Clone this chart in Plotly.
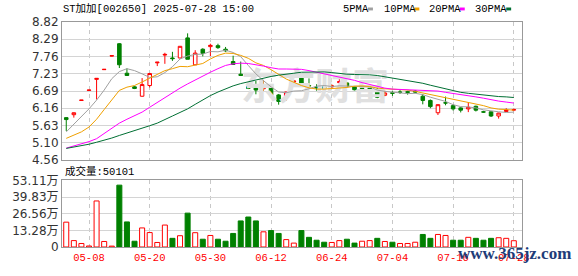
import plotly.graph_objects as go

TITLE = "ST加加[002650] 2025-07-28 15:00"
VOL_LABEL = "成交量:50101"

DATES = ["04-30", "05-06", "05-07", "05-08", "05-09", "05-12", "05-13", "05-14", "05-15", "05-16",
         "05-19", "05-20", "05-21", "05-22", "05-23", "05-26", "05-27", "05-28", "05-29", "05-30",
         "06-03", "06-04", "06-05", "06-06", "06-09", "06-10", "06-11", "06-12", "06-13", "06-16",
         "06-17", "06-18", "06-19", "06-20", "06-23", "06-24", "06-25", "06-26", "06-27", "06-30",
         "07-01", "07-02", "07-03", "07-04", "07-07", "07-08", "07-09", "07-10", "07-11", "07-14",
         "07-15", "07-16", "07-17", "07-18", "07-21", "07-22", "07-23", "07-24", "07-25", "07-28"]

OPEN = [5.87, 5.96, 6.40, 6.71, 7.05, 7.35, 7.77, 8.15, 7.24, 6.82,
        6.53, 6.86, 7.56, 7.80, 7.71, 7.71, 8.33, 7.50, 7.98, 8.06,
        8.09, 7.98, 7.60, 7.21, 6.83, 6.87, 6.76, 6.82, 6.57, 6.53,
        6.97, 7.19, 6.86, 6.81, 6.82, 6.82, 6.95, 6.94, 6.82, 6.79,
        6.79, 6.74, 6.56, 6.64, 6.66, 6.67, 6.69, 6.53, 6.40, 6.02,
        6.33, 6.24, 6.17, 6.14, 6.22, 6.05, 6.05, 5.92, 6.06, 6.10]
HIGH = [5.88, 6.03, 6.41, 6.72, 7.08, 7.36, 7.78, 8.17, 7.39, 6.84,
        7.09, 7.25, 7.58, 7.87, 7.90, 8.08, 8.47, 7.95, 8.01, 8.15,
        8.15, 8.05, 7.78, 7.60, 6.95, 7.00, 7.03, 6.84, 6.60, 6.67,
        7.01, 7.20, 7.08, 6.90, 6.84, 6.90, 7.10, 6.96, 6.84, 6.85,
        6.86, 6.81, 6.70, 6.70, 6.72, 6.70, 6.72, 6.60, 6.43, 6.28,
        6.52, 6.28, 6.19, 6.34, 6.24, 6.08, 6.06, 6.02, 6.16, 6.15]
LOW = [5.46, 5.87, 6.39, 6.70, 6.43, 7.34, 7.76, 7.40, 7.16, 6.75,
       6.52, 6.80, 7.46, 7.53, 7.62, 7.70, 7.67, 7.50, 7.76, 7.77,
       7.99, 7.90, 7.50, 7.16, 6.75, 6.59, 6.69, 6.54, 6.27, 6.40,
       6.96, 6.86, 6.84, 6.70, 6.76, 6.77, 6.92, 6.83, 6.71, 6.70,
       6.68, 6.47, 6.53, 6.54, 6.60, 6.58, 6.62, 6.28, 6.16, 5.95,
       6.25, 6.09, 6.03, 6.04, 6.06, 6.02, 5.89, 5.84, 6.05, 6.07]
CLOSE = [5.81, 6.02, 6.41, 6.72, 7.08, 7.36, 7.78, 7.50, 7.17, 6.77,
         6.89, 7.23, 7.58, 7.82, 7.69, 8.07, 7.67, 7.86, 7.85, 8.10,
         8.03, 7.93, 7.51, 7.17, 6.77, 6.72, 6.87, 6.57, 6.37, 6.66,
         7.00, 6.91, 6.85, 6.79, 6.77, 6.85, 6.98, 6.84, 6.73, 6.77,
         6.77, 6.50, 6.63, 6.62, 6.65, 6.65, 6.66, 6.40, 6.21, 6.27,
         6.32, 6.14, 6.10, 6.19, 6.10, 6.04, 5.92, 6.01, 6.10, 6.12]
PREV_CLOSE = 5.54

# volume in 万股
VOLUME = [19.8, 5.1, 2.8, 0.8, 36.7, 4.4, 0.7, 49.3, 20.0, 4.6,
          15.2, 11.5, 3.6, 17.5, 6.9, 9.0, 27.0, 11.4, 6.2, 9.2,
          6.2, 4.6, 10.8, 20.8, 23.9, 20.8, 12.1, 13.1, 10.8, 5.9,
          3.1, 13.1, 7.7, 5.4, 3.8, 3.6, 5.1, 6.2, 3.1, 4.6,
          5.1, 6.9, 4.4, 3.8, 2.8, 2.8, 3.8, 10.0, 6.9, 10.0,
          9.2, 5.4, 5.4, 7.7, 6.9, 5.4, 6.9, 7.4, 6.9, 5.01]

MA5 = [5.43, 5.66, 5.90, 6.14, 6.41, 6.72, 7.07, 7.29, 7.38, 7.32,
       7.22, 7.11, 7.13, 7.26, 7.44, 7.68, 7.77, 7.82, 7.83, 7.91,
       7.90, 7.95, 7.88, 7.75, 7.48, 7.22, 7.01, 6.82, 6.66, 6.64,
       6.69, 6.70, 6.76, 6.84, 6.86, 6.83, 6.85, 6.85, 6.83, 6.83,
       6.82, 6.72, 6.68, 6.66, 6.63, 6.61, 6.62, 6.58, 6.50, 6.44,
       6.37, 6.27, 6.21, 6.20, 6.17, 6.11, 6.07, 6.05, 6.03, 6.04]
MA10 = [5.23, 5.33, 5.43, 5.58, 5.82, 6.12, 6.41, 6.71, 6.81, 6.86,
        6.97, 7.09, 7.21, 7.32, 7.38, 7.45, 7.44, 7.48, 7.54, 7.68,
        7.79, 7.86, 7.85, 7.79, 7.70, 7.56, 7.48, 7.35, 7.20, 7.06,
        6.96, 6.86, 6.79, 6.75, 6.75, 6.76, 6.78, 6.80, 6.84, 6.85,
        6.83, 6.78, 6.76, 6.75, 6.73, 6.72, 6.68, 6.63, 6.58, 6.53,
        6.48, 6.45, 6.39, 6.35, 6.30, 6.24, 6.17, 6.13, 6.12, 6.10]
MA20 = [4.93, 4.99, 5.05, 5.13, 5.22, 5.38, 5.55, 5.70, 5.82, 5.93,
        6.04, 6.19, 6.34, 6.49, 6.63, 6.78, 6.91, 7.03, 7.17, 7.27,
        7.38, 7.48, 7.53, 7.55, 7.54, 7.51, 7.46, 7.41, 7.37, 7.37,
        7.37, 7.36, 7.32, 7.27, 7.22, 7.16, 7.13, 7.08, 7.02, 6.95,
        6.89, 6.82, 6.78, 6.75, 6.74, 6.74, 6.72, 6.72, 6.71, 6.69,
        6.65, 6.62, 6.58, 6.55, 6.51, 6.47, 6.42, 6.38, 6.35, 6.32]
MA30 = [4.92, 4.96, 5.00, 5.05, 5.11, 5.17, 5.24, 5.32, 5.39, 5.46,
        5.54, 5.62, 5.70, 5.80, 5.92, 6.03, 6.14, 6.28, 6.42, 6.55,
        6.66, 6.76, 6.85, 6.92, 6.98, 7.04, 7.09, 7.14, 7.18, 7.20,
        7.24, 7.27, 7.28, 7.29, 7.28, 7.26, 7.23, 7.21, 7.20, 7.20,
        7.19, 7.17, 7.13, 7.09, 7.06, 7.01, 6.98, 6.93, 6.87, 6.81,
        6.76, 6.70, 6.65, 6.62, 6.59, 6.57, 6.54, 6.52, 6.51, 6.49]

PRICE_TICKS = ["4.56", "5.10", "5.63", "6.16", "6.69", "7.23", "7.76", "8.29", "8.82"]
VOL_TICKS = ["0", "13.28", "26.56", "39.83", "53.11"]
X_TICKS = ["05-08", "05-20", "05-30", "06-12", "06-24", "07-04", "07-16", "07-28"]
MA_NAMES = ["5PMA", "10PMA", "20PMA", "30PMA"]

RED = "#ff0000"
GREEN = "#008000"
MA_COLORS = ["#a0a0a0", "#f0a000", "#ff00ff", "#006f33"]

idx = list(range(len(DATES)))
xt = [DATES.index(d) for d in X_TICKS]

prevs = [PREV_CLOSE] + CLOSE[:-1]
up = [c >= p for c, p in zip(CLOSE, prevs)]
vol_fill = ["#ffffff" if u else GREEN for u in up]
vol_line = [RED if u else GREEN for u in up]

fig = go.Figure()

# faint watermark behind the data
fig.add_trace(go.Scatter(x=[32.8], y=[6.70], mode="text", text=["东方财富"],
                         textfont=dict(family="Noto Sans CJK SC", size=37, color="#e0e0e0", weight=700),
                         hoverinfo="skip", showlegend=False, xaxis="x", yaxis="y"))

fig.add_trace(go.Candlestick(
    x=idx, open=OPEN, high=HIGH, low=LOW, close=CLOSE,
    increasing=dict(line=dict(color=RED, width=1), fillcolor="#ffffff"),
    decreasing=dict(line=dict(color=GREEN, width=1), fillcolor=GREEN),
    whiskerwidth=0, showlegend=False, hoverinfo="skip", xaxis="x", yaxis="y"))

for ma, col, nm in zip([MA5, MA10, MA20, MA30], MA_COLORS, MA_NAMES):
    fig.add_trace(go.Scatter(x=idx, y=ma, mode="lines", name=nm,
                             line=dict(color=col, width=1), hoverinfo="skip",
                             showlegend=False, xaxis="x", yaxis="y"))

fig.add_trace(go.Bar(x=idx, y=VOLUME, width=0.66,
                     marker=dict(color=vol_fill, line=dict(color=vol_line, width=1)),
                     showlegend=False, hoverinfo="skip", xaxis="x2", yaxis="y2"))

W, H = 578, 276
ML, MR, MT, MB = 56, 56, 22, 21
PW, PH = W - ML - MR, H - MT - MB


def px(x):
    return (x - ML) / PW


def py(y):
    return (H - MB - y) / PH


XR = [-0.56, 60.08]
grid_dash = "4px,4px"
border = "#999999"

fig.update_layout(
    width=W, height=H, margin=dict(l=ML, r=MR, t=MT, b=MB, pad=0),
    paper_bgcolor="white", plot_bgcolor="white", showlegend=False,
    boxgap=0.33,
    xaxis=dict(domain=[0, 1], anchor="y", range=XR, tickmode="array", tickvals=xt,
               showticklabels=False, ticks="", showgrid=True, gridcolor="#c8c8c8",
               griddash=grid_dash, gridwidth=1, showline=True, mirror=True,
               linecolor=border, linewidth=1, zeroline=False,
               rangeslider=dict(visible=False)),
    yaxis=dict(domain=[py(165), 1], anchor="x", range=[4.56, 8.82], tickmode="array",
               tickvals=[float(t) for t in PRICE_TICKS], ticktext=PRICE_TICKS,
               showgrid=True, gridcolor="#d4d4d4", gridwidth=1, showline=True, mirror=True,
               linecolor=border, linewidth=1, zeroline=False, ticks="",
               tickfont=dict(family="DejaVu Sans", size=12, color="#333333")),
    xaxis2=dict(domain=[0, 1], anchor="y2", range=XR, tickmode="array", tickvals=xt,
                ticktext=X_TICKS, ticks="", showgrid=True, gridcolor="#c8c8c8",
                griddash=grid_dash, gridwidth=1, showline=True, mirror=True,
                linecolor=border, linewidth=1, zeroline=False,
                tickfont=dict(family="Liberation Mono", size=10.5, color=RED)),
    yaxis2=dict(domain=[0, py(186)], anchor="x2", range=[0, 53.11], tickmode="array",
                tickvals=[float(t) for t in VOL_TICKS],
                ticktext=[t if t == "0" else t + "万" for t in VOL_TICKS],
                showgrid=True, gridcolor="#d4d4d4", gridwidth=1, showline=True, mirror=True,
                linecolor=border, linewidth=1, zeroline=False, ticks="",
                tickfont=dict(family="DejaVu Sans, Noto Sans CJK SC", size=12, color="#333333")),
)

label_font = dict(family="Liberation Mono, Noto Sans CJK SC", size=10.5, color="#000000")
ann = [
    dict(x=px(55), y=py(9), xref="paper", yref="paper", text=TITLE, showarrow=False,
         xanchor="left", yanchor="middle", font=label_font),
    dict(x=px(57), y=py(177), xref="paper", yref="paper", text=VOL_LABEL, showarrow=False,
         xanchor="left", yanchor="middle", font=label_font),
    dict(x=px(455), y=py(262), xref="paper", yref="paper", text="www.365jz.com", showarrow=False,
         xanchor="left", yanchor="middle",
         font=dict(family="Liberation Serif", size=17, color="#1e3c78", weight=700)),
]
leg_text_x = [339, 380, 426, 472]
leg_sq_x = [366, 413, 459, 506]
shapes = []
for nm, tx, sx, col in zip(MA_NAMES, leg_text_x, leg_sq_x, MA_COLORS):
    ann.append(dict(x=px(tx), y=py(9), xref="paper", yref="paper", text=nm, showarrow=False,
                    xanchor="left", yanchor="middle", font=label_font))
    shapes.append(dict(type="rect", xref="paper", yref="paper", x0=px(sx), x1=px(sx + 5),
                       y0=py(10), y1=py(7), fillcolor=col, line=dict(width=0)))
fig.update_layout(annotations=ann, shapes=shapes)

fig.write_html("out.html")
